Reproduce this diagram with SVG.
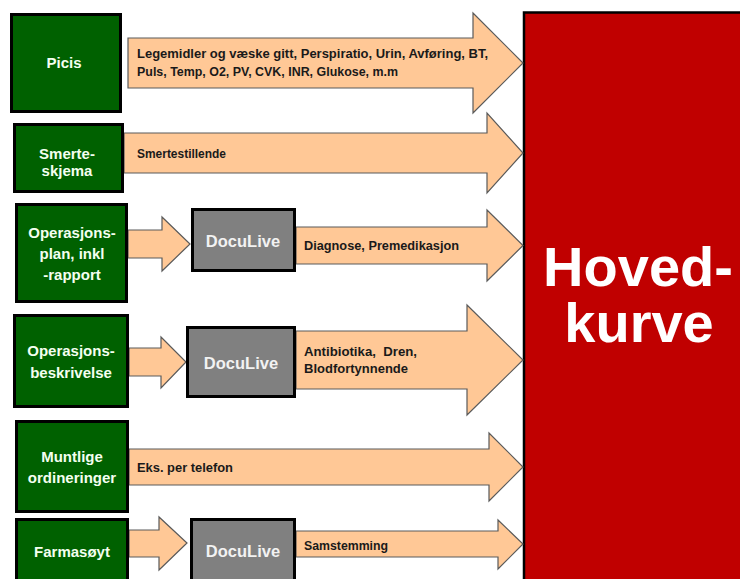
<svg xmlns="http://www.w3.org/2000/svg" width="740" height="579" viewBox="0 0 740 579">
<defs>
<style>
.src{fill:#006100;stroke:#000;stroke-width:3}
.doc{fill:#808080;stroke:#000;stroke-width:3}
.arr{fill:#FFC896;stroke:#5a5a5a;stroke-width:1.2;stroke-linejoin:miter}
.st{font-family:"Liberation Sans",Arial,sans-serif;font-weight:bold;font-size:15px;fill:#F4FFF0;text-anchor:middle}
.dt{font-family:"Liberation Sans",Arial,sans-serif;font-weight:bold;font-size:16.5px;fill:#F2F2F2;text-anchor:middle}
.lb{font-family:"Liberation Sans",Arial,sans-serif;font-weight:bold;font-size:12px;fill:#1a1a1a}
.big{font-family:"Liberation Sans",Arial,sans-serif;font-weight:bold;font-size:56px;fill:#fff;text-anchor:middle}
</style>
</defs>
<rect width="740" height="579" fill="#fff"/>

<g id="hovedkurve">
<rect x="524" y="12.5" width="230" height="580" fill="#C00000" stroke="#000" stroke-width="2.5"/>
<text class="big" x="638" y="286">Hoved-</text>
<text class="big" x="639" y="342">kurve</text>
</g>

<g id="connectors">
<polygon class="arr" points="128,38 473,38 473,13 523,63 473,113 473,88 128,88"/>
<polygon class="arr" points="124,133 487,133 487,113 523,153 487,193 487,173 124,173"/>
<polygon class="arr" points="128,230 162,230 162,217 190,244 162,271 162,258 128,258"/>
<polygon class="arr" points="296,227 487,227 487,210 523,245.5 487,281 487,264 296,264"/>
<polygon class="arr" points="129,348 161,348 161,337 186,362 161,388 161,376 129,376"/>
<polygon class="arr" points="296,331 467,331 467,305 523,360 467,415 467,389 296,389"/>
<polygon class="arr" points="129,449 489,449 489,433 523,467 489,501 489,485 129,485"/>
<polygon class="arr" points="129,530 159,530 159,517 187,543 159,570 159,557 129,557"/>
<polygon class="arr" points="296,531 498,531 498,520 523,544 498,569 498,557 296,557"/>
<text class="lb" x="137" y="58" textLength="351" lengthAdjust="spacingAndGlyphs">Legemidler og væske gitt, Perspiratio, Urin, Avføring, BT,</text>
<text class="lb" x="137" y="76" textLength="261" lengthAdjust="spacingAndGlyphs">Puls, Temp, O2, PV, CVK, INR, Glukose, m.m</text>
<text class="lb" x="137" y="158" textLength="89" lengthAdjust="spacingAndGlyphs">Smertestillende</text>
<text class="lb" x="304" y="250" textLength="155" lengthAdjust="spacingAndGlyphs">Diagnose, Premedikasjon</text>
<text class="lb" x="304" y="356" textLength="113" lengthAdjust="spacingAndGlyphs" xml:space="preserve">Antibiotika,  Dren,</text>
<text class="lb" x="304" y="373" textLength="104" lengthAdjust="spacingAndGlyphs">Blodfortynnende</text>
<text class="lb" x="137" y="472" textLength="96" lengthAdjust="spacingAndGlyphs">Eks. per telefon</text>
<text class="lb" x="304" y="550" textLength="84" lengthAdjust="spacingAndGlyphs">Samstemming</text>
</g>

<g id="picis">
<rect class="src" x="11.5" y="14.5" width="109" height="97"/>
<text class="st" x="64" y="68">Picis</text>
</g>
<g id="smerteskjema">
<rect class="src" x="14.5" y="124.5" width="108" height="67"/>
<text class="st" x="67" y="159">Smerte-</text>
<text class="st" x="67" y="176">skjema</text>
</g>
<g id="operasjonsplan">
<rect class="src" x="16.5" y="204.5" width="110" height="97"/>
<text class="st" x="72" y="238">Operasjons-</text>
<text class="st" x="72" y="259">plan, inkl</text>
<text class="st" x="72" y="280">-rapport</text>
</g>
<g id="doculive1">
<rect class="doc" x="192.5" y="209.5" width="102" height="61"/>
<text class="dt" x="243" y="247">DocuLive</text>
</g>
<g id="operasjonsbeskrivelse">
<rect class="src" x="14.5" y="315.5" width="113" height="91"/>
<text class="st" x="71" y="356">Operasjons-</text>
<text class="st" x="71" y="378">beskrivelse</text>
</g>
<g id="doculive2">
<rect class="doc" x="187.5" y="327.5" width="107" height="69"/>
<text class="dt" x="241" y="369">DocuLive</text>
</g>
<g id="muntlige">
<rect class="src" x="16.5" y="421.5" width="111" height="90"/>
<text class="st" x="72" y="462">Muntlige</text>
<text class="st" x="72" y="483">ordineringer</text>
</g>
<g id="farmasoyt">
<rect class="src" x="16.5" y="519.5" width="111" height="80"/>
<text class="st" x="72" y="557">Farmasøyt</text>
</g>
<g id="doculive3">
<rect class="doc" x="191.5" y="519.5" width="103" height="80"/>
<text class="dt" x="243" y="557">DocuLive</text>
</g>
</svg>
